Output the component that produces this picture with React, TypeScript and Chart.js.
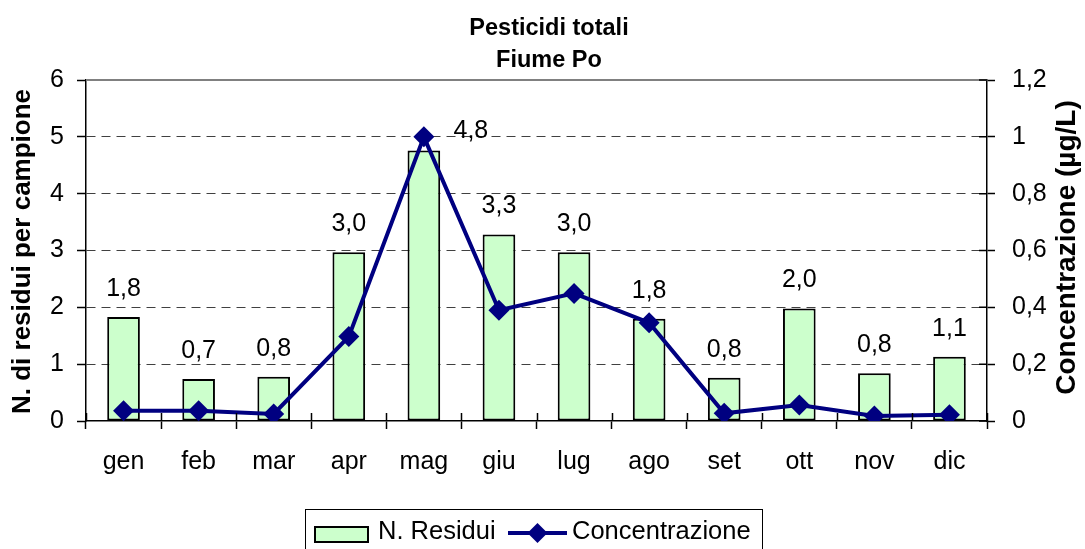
import React, { useEffect, useRef } from 'react';
import { Chart, registerables } from 'chart.js';

Chart.register(...registerables);

const FONT = 'Arial, "Liberation Sans", sans-serif';

// ---- data ----
const months = ['gen', 'feb', 'mar', 'apr', 'mag', 'giu', 'lug', 'ago', 'set', 'ott', 'nov', 'dic'];
const residui = [1.83, 0.74, 0.78, 2.97, 4.76, 3.28, 2.97, 1.8, 0.76, 1.98, 0.84, 1.13];
const concentrazione = [0.036, 0.036, 0.025, 0.297, 1.0, 0.39, 0.449, 0.346, 0.027, 0.056, 0.018, 0.022];
const titleLines = ['Pesticidi totali', 'Fiume Po'];
const leftTitle = 'N. di residui per campione';
const rightTitle = 'Concentrazione (µg/L)';
const legendLabels = ['N. Residui', 'Concentrazione'];

const BAR_FILL = '#CCFFCC';
const LINE_COLOR = '#000080';

const fmtComma = (v: number, digits: number) => v.toFixed(digits).replace('.', ',');
const fmtTick = (v: number) => String(Math.round(v * 10) / 10).replace('.', ',');

// label nudges (Excel moved the "mag" label beside the marker)
const LABEL_NUDGE: Record<number, [number, number]> = { 4: [47, 9] };

const decorPlugin = {
  id: 'decor',
  afterDatasetsDraw(chart: any) {
    const ctx = chart.ctx as CanvasRenderingContext2D;
    const meta = chart.getDatasetMeta(0);
    ctx.save();
    ctx.font = `25px ${FONT}`;
    ctx.fillStyle = '#000';
    ctx.textAlign = 'center';
    ctx.textBaseline = 'middle';
    meta.data.forEach((el: any, i: number) => {
      const n = LABEL_NUDGE[i] || [0, 0];
      ctx.fillText(fmtComma(residui[i], 1), el.x + n[0], el.y - 28 + n[1]);
    });
    ctx.restore();
  },
  afterDraw(chart: any) {
    const ctx = chart.ctx as CanvasRenderingContext2D;
    const ca = chart.chartArea;
    const xs = chart.scales.x;
    const y1 = chart.scales.y1;
    ctx.save();

    // top border of plot area
    ctx.strokeStyle = '#808080';
    ctx.lineWidth = 2;
    ctx.beginPath();
    ctx.moveTo(ca.left, ca.top);
    ctx.lineTo(ca.right, ca.top);
    ctx.stroke();

    // inner tick parts
    ctx.strokeStyle = '#000';
    ctx.lineWidth = 1.5;
    ctx.beginPath();
    for (let i = 0; i <= months.length; i++) {
      const px = Math.round(xs.getPixelForValue(i - 0.5)) + 0.5;
      ctx.moveTo(px, ca.bottom - 8);
      ctx.lineTo(px, ca.bottom);
    }
    y1.ticks.forEach((t: any) => {
      const py = y1.getPixelForValue(t.value);
      ctx.moveTo(ca.right - 8, py);
      ctx.lineTo(ca.right, py);
    });
    ctx.stroke();

    // title
    ctx.fillStyle = '#000';
    ctx.font = `bold 23.5px ${FONT}`;
    ctx.textAlign = 'center';
    ctx.textBaseline = 'alphabetic';
    ctx.fillText(titleLines[0], 549, 35);
    ctx.fillText(titleLines[1], 549, 67);

    // axis titles
    const cy = (ca.top + ca.bottom) / 2;
    ctx.font = `bold 26px ${FONT}`;
    ctx.save();
    ctx.translate(30, cy + 1);
    ctx.rotate(-Math.PI / 2);
    ctx.fillText(leftTitle, 0, 0);
    ctx.restore();
    ctx.save();
    ctx.font = `bold 28px ${FONT}`;
    ctx.translate(1075, cy - 3);
    ctx.rotate(-Math.PI / 2);
    ctx.fillText(rightTitle, 0, 0);
    ctx.restore();

    // legend
    ctx.strokeStyle = '#000';
    ctx.lineWidth = 1;
    ctx.strokeRect(305.5, 509.5, 457, 60);
    ctx.fillStyle = BAR_FILL;
    ctx.fillRect(315, 527, 53, 15);
    ctx.lineWidth = 2;
    ctx.strokeRect(315, 527, 53, 15);
    ctx.fillStyle = '#000';
    ctx.font = `25.5px ${FONT}`;
    ctx.textAlign = 'left';
    ctx.fillText(legendLabels[0], 378, 539);
    ctx.strokeStyle = LINE_COLOR;
    ctx.lineWidth = 4;
    ctx.beginPath();
    ctx.moveTo(508, 533);
    ctx.lineTo(567, 533);
    ctx.stroke();
    ctx.fillStyle = LINE_COLOR;
    ctx.beginPath();
    ctx.moveTo(537.5, 523);
    ctx.lineTo(547.5, 533);
    ctx.lineTo(537.5, 543);
    ctx.lineTo(527.5, 533);
    ctx.closePath();
    ctx.fill();
    ctx.fillStyle = '#000';
    ctx.fillText(legendLabels[1], 572, 539);

    ctx.restore();
  },
};

export default function App() {
  const ref = useRef<HTMLCanvasElement | null>(null);

  useEffect(() => {
    if (!ref.current) return;
    const tickFont = { family: FONT, size: 25 };
    const chart = new Chart(ref.current, {
      data: {
        labels: months,
        datasets: [
          {
            type: 'bar',
            label: legendLabels[0],
            data: residui,
            yAxisID: 'y',
            backgroundColor: BAR_FILL,
            borderColor: '#000',
            borderWidth: 2,
            borderSkipped: false,
            barPercentage: 0.435,
            categoryPercentage: 1,
            order: 2,
          } as any,
          {
            type: 'line',
            label: legendLabels[1],
            data: concentrazione,
            yAxisID: 'y1',
            borderColor: LINE_COLOR,
            backgroundColor: LINE_COLOR,
            borderWidth: 4,
            tension: 0,
            pointStyle: 'rectRot',
            pointRadius: 10.5,
            pointBorderWidth: 0,
            pointBackgroundColor: LINE_COLOR,
            order: 1,
          } as any,
        ],
      },
      options: {
        responsive: false,
        animation: false,
        events: [],
        layout: { padding: { top: 80, left: 0, right: 0, bottom: 0 } },
        plugins: {
          legend: { display: false },
          title: { display: false },
          tooltip: { enabled: false },
        },
        scales: {
          x: {
            type: 'category',
            offset: true,
            grid: {
              offset: true,
              drawOnChartArea: false,
              drawTicks: true,
              tickLength: 8,
              tickColor: '#000',
              tickWidth: 1.5,
            },
            border: { display: true, color: '#000', width: 1.5 },
            ticks: { color: '#000', font: tickFont, padding: 18, maxRotation: 0, autoSkip: false },
            afterFit(s: any) {
              s.height = 128;
            },
          },
          y: {
            position: 'left',
            min: 0,
            max: 6,
            ticks: { stepSize: 1, color: '#000', font: tickFont, padding: 13 },
            grid: {
              color: (c: any) => {
                const v = c.tick ? c.tick.value : 0;
                return v > 0 && v < 6 ? '#404040' : 'rgba(0,0,0,0)';
              },
              lineWidth: 1,
              tickColor: '#000',
              tickLength: 9,
              tickWidth: 1.5,
            },
            border: { display: true, color: '#000', width: 1.5, dash: [9, 6] },
            afterFit(s: any) {
              s.width = 86;
            },
          },
          y1: {
            position: 'right',
            min: 0,
            max: 1.2,
            ticks: { stepSize: 0.2, color: '#000', font: tickFont, padding: 17, callback: (v: any) => fmtTick(Number(v)) },
            grid: { drawOnChartArea: false, tickColor: '#000', tickLength: 8, tickWidth: 1.5 },
            border: { display: true, color: '#000', width: 1.5 },
            afterFit(s: any) {
              s.width = 98;
            },
          },
        },
      } as any,
      plugins: [decorPlugin],
    });
    return () => chart.destroy();
  }, []);

  return (
    <div style={{ position: 'absolute', left: 0, top: 0, width: 1085, height: 549, background: '#fff' }}>
      <canvas ref={ref} width={1085} height={549} style={{ display: 'block' }} />
    </div>
  );
}
